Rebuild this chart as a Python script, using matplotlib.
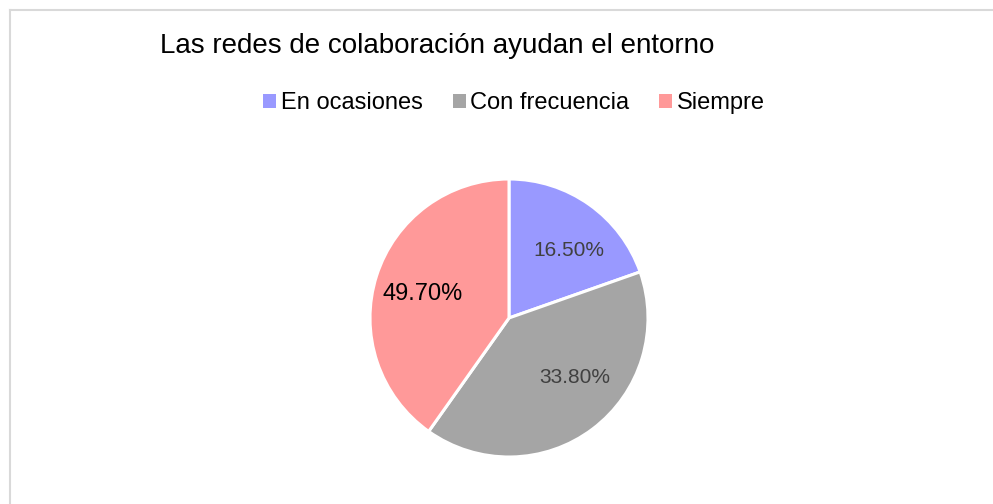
import matplotlib
matplotlib.use("Agg")
import matplotlib.pyplot as plt
from matplotlib.lines import Line2D
import numpy as np

categories = ["En ocasiones", "Con frecuencia", "Siempre"]
values = [16.5, 33.8, 33.8]
label_texts = ["16.50%", "33.80%", "49.70%"]
colors = ["#9999FF", "#A5A5A5", "#FF9999"]
label_colors = ["#404040", "#404040", "#000000"]
label_sizes = [15, 15, 17]
title = "Las redes de colaboración ayudan el entorno"

W, H = 993, 504
fig = plt.figure(figsize=(W / 100, H / 100), dpi=100)
fig.patch.set_facecolor("white")

# chart border (light gray)
fig.add_artist(Line2D([9.5 / W, 9.5 / W], [0, 1 - 10 / H], color="#D9D9D9", lw=1.5,
                      transform=fig.transFigure))
fig.add_artist(Line2D([9.5 / W, 1], [1 - 10 / H, 1 - 10 / H], color="#D9D9D9", lw=1.5,
                      transform=fig.transFigure))

cx, cy, r = 509, 318, 139
ax = fig.add_axes([(cx - r) / W, (H - cy - r) / H, 2 * r / W, 2 * r / H])
wedges, texts = ax.pie(values, colors=colors, startangle=90, counterclock=False,
                       labels=label_texts, labeldistance=0.64,
                       wedgeprops=dict(edgecolor="white", linewidth=2.2),
                       textprops=dict(fontsize=15, family="Liberation Sans"))
for t, c, s in zip(texts, label_colors, label_sizes):
    t.set_color(c)
    t.set_fontsize(s)
    t.set_ha("center")
    t.set_va("center")
# small nudges to match the reference placement
nudges = [(0.06, -0.04), (0.09, 0.08), (-0.01, -0.02)]
for t, (dx, dy) in zip(texts, nudges):
    x, y = t.get_position()
    t.set_position((x + dx, y + dy))
ax.set_xlim(-1, 1)
ax.set_ylim(-1, 1)
ax.set_aspect("equal")
ax.axis("off")

fig.text(160 / W, 1 - 46 / H, title, fontsize=20, family="Liberation Sans",
         color="#000000", ha="left", va="center")

leg = fig.legend(wedges, categories, loc="center", bbox_to_anchor=(514 / W, 1 - 103 / H),
                 ncol=3, frameon=False, handlelength=0.55, handleheight=0.55,
                 handletextpad=0.2, columnspacing=1.27,
                 prop=dict(family="Liberation Sans", size=17))
for h in leg.legend_handles:
    h.set_edgecolor("none")

fig.savefig("out.png", dpi=100)
